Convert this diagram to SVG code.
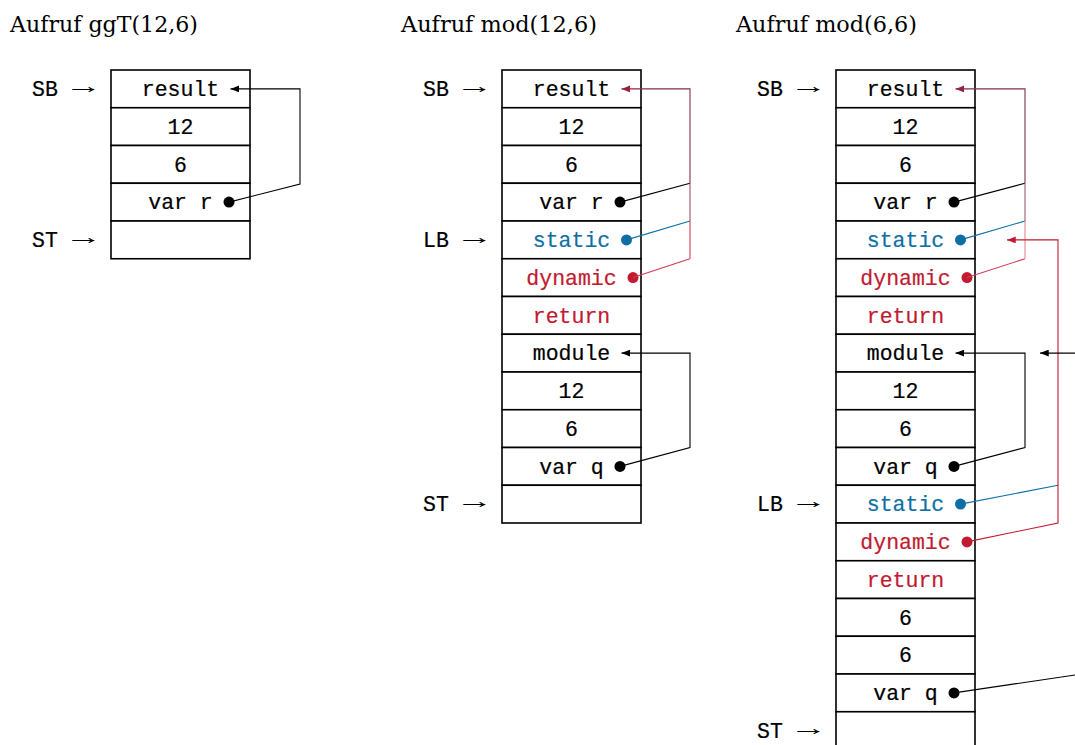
<svg xmlns="http://www.w3.org/2000/svg" width="1075" height="745" viewBox="0 0 1075 745">
<style>
.cell{fill:#fff;stroke:#000;stroke-width:1.6}
.t{font-family:"Liberation Mono",monospace;font-size:21.5px;text-anchor:middle;fill:#000;stroke:#000;stroke-width:0.2}
.lbl{font-family:"Liberation Mono",monospace;font-size:21.5px;fill:#000;stroke:#000;stroke-width:0.2}
.arr{font-family:"Liberation Serif",serif;font-size:22px;fill:#000}
.title{font-family:"DejaVu Serif",serif;font-size:22px;fill:#000}
.t.blue{fill:#0e6fa5;stroke:#0e6fa5}
.t.red{fill:#c21a31;stroke:#c21a31}
.blue{fill:#0e6fa5}
.red{fill:#c21a31}
.c{fill:none;stroke-width:1.1}
</style>
<defs>
<marker id="ak" viewBox="0 0 10 8" refX="10" refY="4" markerWidth="9" markerHeight="7" markerUnits="userSpaceOnUse" orient="auto"><path d="M0,0 L10,4 L0,8 z" fill="#000"/></marker>
<marker id="am" viewBox="0 0 10 8" refX="10" refY="4" markerWidth="9" markerHeight="7" markerUnits="userSpaceOnUse" orient="auto"><path d="M0,0 L10,4 L0,8 z" fill="#9a2040"/></marker>
<marker id="ar" viewBox="0 0 10 8" refX="10" refY="4" markerWidth="9" markerHeight="7" markerUnits="userSpaceOnUse" orient="auto"><path d="M0,0 L10,4 L0,8 z" fill="#c21a31"/></marker>
</defs>
<rect width="1075" height="745" fill="#fff"/>

<text class="title" x="10" y="32" textLength="188" lengthAdjust="spacingAndGlyphs">Aufruf ggT(12,6)</text>
<text class="title" x="401" y="32" textLength="196" lengthAdjust="spacingAndGlyphs">Aufruf mod(12,6)</text>
<text class="title" x="736" y="32" textLength="181" lengthAdjust="spacingAndGlyphs">Aufruf mod(6,6)</text>

<!-- Stack 1 -->
<g id="s1-result"><rect class="cell" x="111" y="70" width="139" height="37.75"/><text class="t" x="180.5" y="96">result</text></g>
<g id="s1-12"><rect class="cell" x="111" y="107.75" width="139" height="37.75"/><text class="t" x="180.5" y="133.75">12</text></g>
<g id="s1-6"><rect class="cell" x="111" y="145.5" width="139" height="37.75"/><text class="t" x="180.5" y="171.5">6</text></g>
<g id="s1-varr"><rect class="cell" x="111" y="183.25" width="139" height="37.75"/><text class="t" x="180.5" y="209.25">var r</text><circle cx="229" cy="202.1" r="5.5"/></g>
<g id="s1-empty"><rect class="cell" x="111" y="221" width="139" height="37.75"/></g>
<g id="s1-labels"><text class="lbl" x="32" y="96">SB</text><text class="arr" transform="translate(65,93) scale(1.7,1)">→</text><text class="lbl" x="32" y="247">ST</text><text class="arr" transform="translate(65,244) scale(1.7,1)">→</text></g>

<!-- Stack 2 -->
<g id="s2-result"><rect class="cell" x="502" y="70" width="139" height="37.75"/><text class="t" x="571.5" y="96">result</text></g>
<g id="s2-12"><rect class="cell" x="502" y="107.75" width="139" height="37.75"/><text class="t" x="571.5" y="133.75">12</text></g>
<g id="s2-6"><rect class="cell" x="502" y="145.5" width="139" height="37.75"/><text class="t" x="571.5" y="171.5">6</text></g>
<g id="s2-varr"><rect class="cell" x="502" y="183.25" width="139" height="37.75"/><text class="t" x="571.5" y="209.25">var r</text><circle cx="620" cy="202.1" r="5.5"/></g>
<g id="s2-static"><rect class="cell" x="502" y="221" width="139" height="37.75"/><text class="t blue" x="571.5" y="247">static</text><circle class="blue" cx="626.5" cy="239.9" r="5.5"/></g>
<g id="s2-dynamic"><rect class="cell" x="502" y="258.75" width="139" height="37.75"/><text class="t red" x="571.5" y="284.75">dynamic</text><circle class="red" cx="633" cy="277.6" r="5.5"/></g>
<g id="s2-return"><rect class="cell" x="502" y="296.5" width="139" height="37.75"/><text class="t red" x="571.5" y="322.5">return</text></g>
<g id="s2-module"><rect class="cell" x="502" y="334.25" width="139" height="37.75"/><text class="t" x="571.5" y="360.25">module</text></g>
<g id="s2-12b"><rect class="cell" x="502" y="372" width="139" height="37.75"/><text class="t" x="571.5" y="398">12</text></g>
<g id="s2-6b"><rect class="cell" x="502" y="409.75" width="139" height="37.75"/><text class="t" x="571.5" y="435.75">6</text></g>
<g id="s2-varq"><rect class="cell" x="502" y="447.5" width="139" height="37.75"/><text class="t" x="571.5" y="473.5">var q</text><circle cx="620" cy="466.4" r="5.5"/></g>
<g id="s2-empty"><rect class="cell" x="502" y="485.25" width="139" height="37.75"/></g>
<g id="s2-labels"><text class="lbl" x="423" y="96">SB</text><text class="arr" transform="translate(456,93) scale(1.7,1)">→</text><text class="lbl" x="423" y="247">LB</text><text class="arr" transform="translate(456,244) scale(1.7,1)">→</text><text class="lbl" x="423" y="511.25">ST</text><text class="arr" transform="translate(456,508.25) scale(1.7,1)">→</text></g>

<!-- Stack 3 -->
<g id="s3-result"><rect class="cell" x="836" y="70" width="139" height="37.75"/><text class="t" x="905.5" y="96">result</text></g>
<g id="s3-12"><rect class="cell" x="836" y="107.75" width="139" height="37.75"/><text class="t" x="905.5" y="133.75">12</text></g>
<g id="s3-6"><rect class="cell" x="836" y="145.5" width="139" height="37.75"/><text class="t" x="905.5" y="171.5">6</text></g>
<g id="s3-varr"><rect class="cell" x="836" y="183.25" width="139" height="37.75"/><text class="t" x="905.5" y="209.25">var r</text><circle cx="954" cy="202.1" r="5.5"/></g>
<g id="s3-static"><rect class="cell" x="836" y="221" width="139" height="37.75"/><text class="t blue" x="905.5" y="247">static</text><circle class="blue" cx="960.5" cy="239.9" r="5.5"/></g>
<g id="s3-dynamic"><rect class="cell" x="836" y="258.75" width="139" height="37.75"/><text class="t red" x="905.5" y="284.75">dynamic</text><circle class="red" cx="967" cy="277.6" r="5.5"/></g>
<g id="s3-return"><rect class="cell" x="836" y="296.5" width="139" height="37.75"/><text class="t red" x="905.5" y="322.5">return</text></g>
<g id="s3-module"><rect class="cell" x="836" y="334.25" width="139" height="37.75"/><text class="t" x="905.5" y="360.25">module</text></g>
<g id="s3-12b"><rect class="cell" x="836" y="372" width="139" height="37.75"/><text class="t" x="905.5" y="398">12</text></g>
<g id="s3-6b"><rect class="cell" x="836" y="409.75" width="139" height="37.75"/><text class="t" x="905.5" y="435.75">6</text></g>
<g id="s3-varq"><rect class="cell" x="836" y="447.5" width="139" height="37.75"/><text class="t" x="905.5" y="473.5">var q</text><circle cx="954" cy="466.4" r="5.5"/></g>
<g id="s3-static2"><rect class="cell" x="836" y="485.25" width="139" height="37.75"/><text class="t blue" x="905.5" y="511.25">static</text><circle class="blue" cx="960.5" cy="504.1" r="5.5"/></g>
<g id="s3-dynamic2"><rect class="cell" x="836" y="523" width="139" height="37.75"/><text class="t red" x="905.5" y="549">dynamic</text><circle class="red" cx="967" cy="541.9" r="5.5"/></g>
<g id="s3-return2"><rect class="cell" x="836" y="560.75" width="139" height="37.75"/><text class="t red" x="905.5" y="586.75">return</text></g>
<g id="s3-6c"><rect class="cell" x="836" y="598.5" width="139" height="37.75"/><text class="t" x="905.5" y="624.5">6</text></g>
<g id="s3-6d"><rect class="cell" x="836" y="636.25" width="139" height="37.75"/><text class="t" x="905.5" y="662.25">6</text></g>
<g id="s3-varq2"><rect class="cell" x="836" y="674" width="139" height="37.75"/><text class="t" x="905.5" y="700">var q</text><circle cx="954" cy="692.9" r="5.5"/></g>
<g id="s3-empty"><rect class="cell" x="836" y="711.75" width="139" height="40"/></g>
<g id="s3-labels"><text class="lbl" x="757" y="96">SB</text><text class="arr" transform="translate(790,93) scale(1.7,1)">→</text><text class="lbl" x="757" y="511.25">LB</text><text class="arr" transform="translate(790,508.25) scale(1.7,1)">→</text><text class="lbl" x="757" y="737.75">ST</text><text class="arr" transform="translate(790,734.75) scale(1.7,1)">→</text></g>

<!-- Connectors -->
<g id="connectors" class="c">
<polyline class="c" stroke="#000" points="229,202.1 300,184 300,88.9 230.5,88.9" marker-end="url(#ak)"/>

<line x1="620" y1="202.1" x2="690" y2="183.25" stroke="#000"/>
<line x1="626.5" y1="239.9" x2="690" y2="221" stroke="#0e6fa5"/>
<line x1="633" y1="277.6" x2="690" y2="258.75" stroke="#d23c52"/>
<line x1="690" y1="258.75" x2="690" y2="221" stroke="#d23c52"/>
<line x1="690" y1="221" x2="690" y2="183.25" stroke="#98506a"/>
<polyline class="c" stroke="#8b2a47" points="690,183.25 690,88.9 621.5,88.9" marker-end="url(#am)"/>
<polyline class="c" stroke="#000" points="620,466.4 690,447.5 690,353.1 621.5,353.1" marker-end="url(#ak)"/>

<line x1="954" y1="202.1" x2="1025" y2="183.25" stroke="#000"/>
<line x1="960.5" y1="239.9" x2="1025" y2="221" stroke="#0e6fa5"/>
<line x1="967" y1="277.6" x2="1025" y2="258.75" stroke="#d23c52"/>
<line x1="1025" y1="258.75" x2="1025" y2="221" stroke="#e5848f"/>
<line x1="1025" y1="221" x2="1025" y2="183.25" stroke="#9e5a72"/>
<polyline class="c" stroke="#7d3150" points="1025,183.25 1025,88.9 955.5,88.9" marker-end="url(#am)"/>
<polyline class="c" stroke="#000" points="954,466.4 1025,447.5 1025,353.1 955.5,353.1" marker-end="url(#ak)"/>

<line x1="960.5" y1="504.1" x2="1058" y2="485.25" stroke="#0e6fa5"/>
<polyline class="c" stroke="#c21a31" points="967,541.9 1058,523 1058,239.9 1007,239.9" marker-end="url(#ar)"/>
<line x1="1080" y1="353.1" x2="1040" y2="353.1" stroke="#000" marker-end="url(#ak)"/>
<line x1="954" y1="692.9" x2="1085" y2="673.5" stroke="#000"/>
</g>
</svg>
